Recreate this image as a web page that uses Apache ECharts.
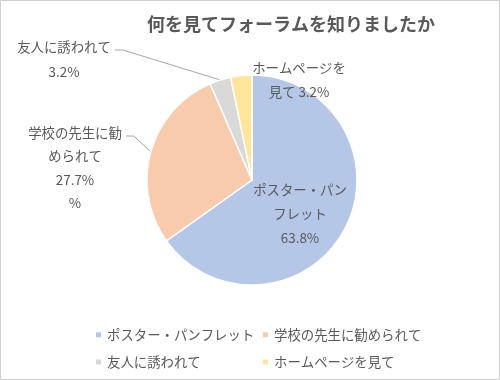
<!DOCTYPE html>
<html><head><meta charset="utf-8">
<script src="https://cdn.jsdelivr.net/npm/echarts@6/dist/echarts.min.js"></script>
<style>html,body{margin:0;padding:0;background:#fff}#c{width:500px;height:380px}</style>
</head><body><div id="c"></div>
<script>
const categories = ['ポスター・パンフレット', '学校の先生に勧められて', '友人に誘われて', 'ホームページを見て'];
const values = [63.8, 27.7, 3.2, 3.2];
const labelTexts = ['ポスター・パン\nフレット\n63.8%', '学校の先生に勧\nめられて\n27.7%\n%', '友人に誘われて\n3.2%', 'ホームページを\n見て 3.2%'];
const colors = ['#b4c7e7', '#f8cbad', '#d9d9d9', '#ffe699'];

const FONT = '"Noto Sans CJK JP", "Noto Sans", sans-serif';
const CX = 252, CY = 180, R = 105;
// label layout (centre positions, line heights, leader line on/off)
const labelPos = [
  {x: 300, y: 214, lh: 24, line: false},
  {x: 75, y: 168, lh: 23.3, line: true},
  {x: 64, y: 59.5, lh: 25, line: true},
  {x: 299, y: 80, lh: 24, line: false}
];
const total = values.reduce((a, b) => a + b, 0);
function midAngle(i) {
  let s = 0;
  for (let k = 0; k < i; k++) s += values[k];
  return (s + values[i] / 2) / total * 2 * Math.PI; // clockwise from top
}

const chart = echarts.init(document.getElementById('c'), null, {renderer: 'canvas'});
chart.setOption({
  animation: false,
  textStyle: {fontFamily: FONT},
  graphic: [{type: 'rect', shape: {x: 0.5, y: 0.5, width: 499, height: 379}, style: {fill: 'none', stroke: '#d0d0d0', lineWidth: 1}, silent: true}],
  title: {
    text: '何を見てフォーラムを知りましたか',
    left: 142, top: 10,
    textStyle: {fontFamily: FONT, fontSize: 18, fontWeight: 'bold', color: '#595959'}
  },
  legend: [
    {data: [categories[0], categories[2]], orient: 'vertical', left: 89, top: 323, itemWidth: 7, itemHeight: 7, itemGap: 14, icon: 'rect',
     textStyle: {fontFamily: FONT, fontSize: 13.4, color: '#595959'}},
    {data: [categories[1], categories[3]], orient: 'vertical', left: 256, top: 323, itemWidth: 7, itemHeight: 7, itemGap: 14, icon: 'rect',
     textStyle: {fontFamily: FONT, fontSize: 13.4, color: '#595959'}}
  ],
  series: [{
    type: 'pie',
    center: [CX, CY],
    radius: [0, R],
    startAngle: 90,
    clockwise: true,
    avoidLabelOverlap: false,
    itemStyle: {borderColor: '#fff', borderWidth: 1.5},
    data: categories.map((n, i) => ({
      name: n, value: values[i],
      itemStyle: {color: colors[i]},
      label: {lineHeight: labelPos[i].lh},
      labelLine: {show: labelPos[i].line}
    })),
    label: {
      show: true,
      position: 'outside',
      overflow: 'none',
      edgeDistance: 0,
      bleedMargin: 0,
      formatter: p => labelTexts[p.dataIndex],
      fontFamily: FONT, fontSize: 13.4, color: '#595959', align: 'center'
    },
    labelLine: {lineStyle: {color: '#a6a6a6', width: 1}},
    labelLayout: function (params) {
      const i = params.dataIndex;
      const lp = labelPos[i];
      const out = {x: lp.x, y: lp.y, align: 'center', verticalAlign: 'middle'};
      if (lp.line) {
        const w = params.labelRect.width;
        const h = params.labelRect.height;
        const sx = lp.x + w / 2 + 4;
        const sy = lp.y - h / 2 + lp.lh / 2 + 3;
        const a = midAngle(i);
        out.labelLinePoints = [[sx, sy], [sx + 8, sy], [CX + R * Math.sin(a), CY - R * Math.cos(a)]];
      }
      return out;
    }
  }]
});
</script></body></html>
